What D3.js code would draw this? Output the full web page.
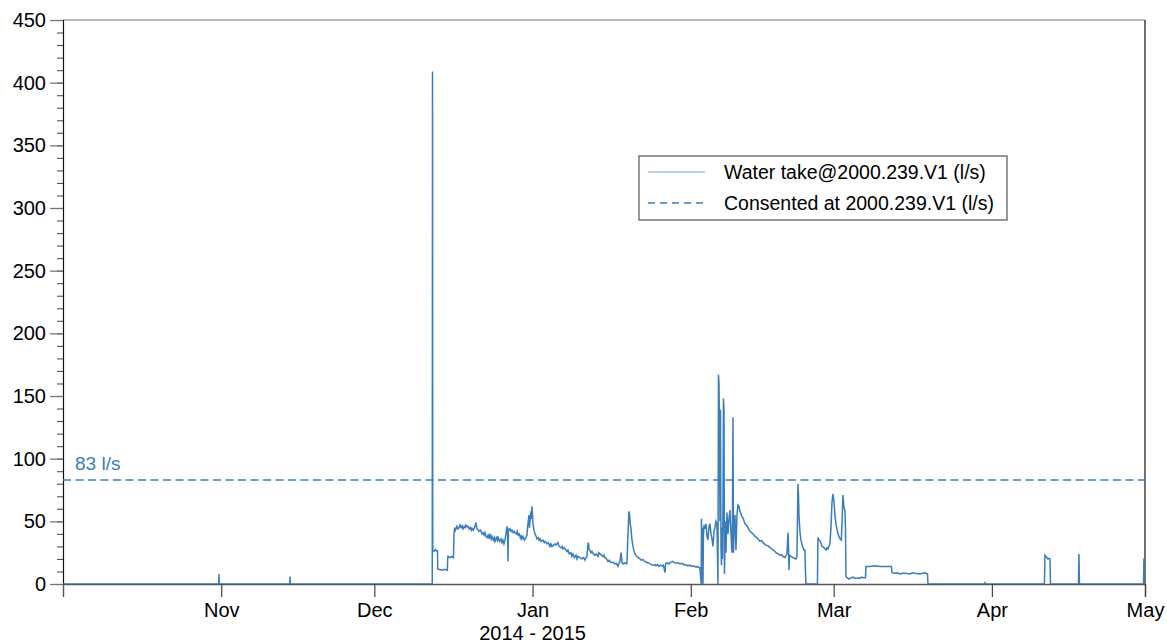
<!DOCTYPE html>
<html><head><meta charset="utf-8">
<script src="https://cdn.jsdelivr.net/npm/d3@7"></script>
<style>
body{margin:0;background:#fff}
text{font-family:"Liberation Sans",Arial,Helvetica,sans-serif}
</style>
</head><body>
<svg id="chart" width="1167" height="644"></svg>
<script>
// ---------- data ----------
const startDate = "2014-10-01";
const endDate = "2015-05-01";
const yTickValues = [0, 50, 100, 150, 200, 250, 300, 350, 400, 450];
const monthTicks = ["2014-11-01", "2014-12-01", "2015-01-01", "2015-02-01", "2015-03-01", "2015-04-01", "2015-05-01"];
const monthLabels = ["Nov", "Dec", "Jan", "Feb", "Mar", "Apr", "May"];
const xTitle = "2014 - 2015";
const seriesNames = ["Water take@2000.239.V1 (l/s)", "Consented at 2000.239.V1 (l/s)"];
const consentedRate = 83;
const consentedLabel = "83 l/s";
// water take: [days since 1 Oct 2014, l/s]
const waterTake = [
[0,0],[30.5,0],[30.56,8],[30.62,0],
[44.42,0],[44.47,6],[44.53,0],
[72.35,0],[72.40,409],[72.45,27],
[72.7,26],[73.0,27.5],[73.3,26],[73.38,27],[73.42,12],[73.8,11.5],[74.3,11],[74.8,11.8],[75.3,11],[75.38,20],[75.43,22],[75.8,21],[76.2,22],[76.5,21],
[76.61,40],[76.75,45],[76.9,43],[77.19,46],[77.4,44],[77.6,45],[77.78,47],[78.0,45],[78.2,46.5],[78.37,44],[78.6,46],[78.8,45],[78.96,47],[79.2,45.5],[79.4,46],[79.55,44],[79.8,45],[80.0,43],[80.13,44.5],[80.4,43],[80.6,45],[80.72,46],[80.92,49],[81.1,44],[81.3,43.5],[81.5,42],[81.8,43],
[82.09,40],[82.3,41],[82.5,39],[82.68,41],[82.9,38],[83.07,37],[83.3,39],[83.5,36],[83.66,40],[83.9,36],[84.05,38],[84.3,35],[84.5,37],[84.64,34],[84.9,37],[85.1,35],[85.23,38],[85.5,34],[85.8,36],[86.01,33],[86.2,35],[86.4,32],[86.6,35],[86.8,40],[86.99,46],[87.1,44],[87.19,18],[87.28,44],[87.4,43],[87.58,44],[87.8,42],[87.97,43],[88.2,41],[88.4,42],[88.56,41],[88.8,40],[89.0,42],[89.15,39],[89.4,40],[89.6,37],[89.73,39],[89.9,36],[90.13,38],[90.4,35],[90.71,37],[90.9,39],
[91.1,48],[91.3,55],[91.4,45],[91.5,50],[91.69,58],[91.8,52],[91.89,62],[92.0,55],[92.08,48],[92.28,43],[92.48,40],[92.7,38],[92.87,36],[93.1,37],[93.3,35],[93.46,36],[93.7,34],[94.04,35],[94.3,33],[94.5,34],[94.83,32],[95.1,33],[95.42,30],[95.6,32],[95.81,30],[96.1,31],[96.39,32],[96.6,31],[96.98,33],[97.2,30],[97.57,29],[97.8,30],[97.96,28],[98.2,29],[98.55,27],[98.8,26],[98.94,27],[99.2,24],[99.53,25],[99.7,22],[99.92,24],[100.2,21],[100.51,23],[100.7,20],[100.9,22],[101.3,21],[101.68,20],[102.0,21],[102.27,19],[102.5,21],[102.66,22],
[102.86,32],[102.96,33],[103.06,28],[103.25,27],[103.45,25],[103.64,26],[103.9,24],[104.23,23],[104.5,24],[104.82,22],[105.0,25],[105.21,24],[105.5,23],[105.8,22],[106.0,23],[106.19,21],[106.5,20],[106.78,18],[107.0,19],[107.37,17],[107.7,17.5],[108.15,16],[108.4,16.5],[108.74,14],[108.9,16],[109.13,18],[109.33,25],[109.45,21],[109.52,17],[109.72,16],[110.11,17],[110.4,16],[110.5,17],
[110.7,40],[110.89,58],[111.0,56],[111.09,50],[111.29,44],[111.45,36],[111.68,30],[111.9,26],[112.07,24],[112.46,22],[112.7,21],[113.05,20],[113.3,19],[113.64,19.5],[114.0,18],[114.22,17.5],[114.62,17],[115.01,16],[115.3,15.5],[115.6,15],[116.0,15.5],[116.18,14.5],[116.5,15.5],[116.77,14],[117.1,15],[117.36,14.5],[117.6,15],[117.75,13],[117.95,9],[118.05,16],[118.34,17],[118.7,16],[118.93,17],[119.2,17.5],[119.51,18],[119.8,17],[120.1,16.5],[120.5,17],[120.89,16],[121.2,16.5],[121.47,16],[121.8,15],[122.06,15.5],[122.4,14.5],[122.85,15],[123.1,14],[123.43,14.5],[123.8,14],[124.02,13.5],[124.3,14],[124.61,13],[124.8,13],
[125.0,2],[125.05,0],[125.1,52],[125.2,1],[125.29,45],[125.39,0],[125.49,40],[125.59,47],[125.78,44],[125.98,48],[126.18,38],[126.37,35],[126.57,46],[126.76,48],[126.96,40],[127.16,36],[127.35,30],[127.55,42],[127.74,45],[127.94,50],[128.13,48],[128.33,0],
[128.43,167],[128.53,160],[128.62,128],[128.72,50],[128.82,139],[128.92,30],[129.02,15],[129.11,45],[129.21,20],[129.31,60],[129.41,148],[129.51,140],[129.6,8],[129.7,30],[129.8,50],[129.9,25],[130.09,57],[130.29,40],[130.49,52],[130.68,59],[130.88,40],[131.07,25],[131.17,50],[131.27,133],[131.37,25],[131.47,40],[131.66,55],[131.86,27],[132.05,55],[132.25,63],[132.45,62],[132.64,58],
[133.03,54],[133.3,52],[133.62,48],[133.9,47],[134.21,45],[134.6,42],[134.9,41],[135.19,40],[135.58,38],[135.9,37],[136.17,36],[136.56,34],[136.9,34.5],[137.15,33],[137.73,31],[138.1,30.5],[138.52,29],[138.8,28.5],[139.11,27],[139.4,26.5],[139.69,25],[140.1,24],[140.48,23],[140.8,23.5],[141.07,22],[141.46,21],[141.85,24],[142.05,41],[142.15,30],[142.24,11],[142.34,23],[142.63,22],[143.03,21],[143.3,20.5],[143.61,20],[143.81,22],
[144.0,80],[144.1,72],[144.2,55],[144.4,41],[144.59,35],[144.98,29],[145.2,27],[145.38,27],[145.47,10],[145.57,0],[147.82,0],
[147.92,37],[148.12,35],[148.4,34],[148.71,30],[149.1,29],[149.49,27],[149.7,29],[149.88,28],[150.27,32],[150.47,45],[150.67,65],[150.86,72],[151.06,66],[151.25,55],[151.45,48],[151.84,40],[152.23,36],[152.5,35],[152.63,48],[152.82,71],[153.0,62],[153.21,58],[153.31,45],
[153.41,6],[153.61,5],[154.0,4],[154.19,4.5],[154.5,5],[154.78,5.5],[155.1,4.5],[155.37,4.5],[155.8,5],[156.15,4.5],[156.5,5.5],[156.74,5],[157.23,5],
[157.33,14],[158.11,14],[159.09,14.5],[160.07,14],[161.05,14],[162.32,14],
[162.42,9],[163.01,8.5],[163.5,9],[163.99,8],[164.5,8.5],[164.97,8.5],[165.95,8],[166.4,9],[166.93,8.5],[167.91,8],[168.4,8.5],[168.89,9],[169.38,8],[169.48,0],
[180.5,0],[180.64,1],[180.8,0],
[192.3,0],[192.4,23],[192.59,22],[192.8,21],[192.99,20],[193.2,20.5],[193.38,20],[193.48,0],
[198.96,0],[199.06,24],[199.16,0],
[211.7,0],[211.79,20],[212,20]
];

// ---------- drawing ----------
const W = 1167, H = 644;
const m = {left: 63, right: 22, top: 20, bottom: 60};
const color = "#3a7dbd";
const parse = d3.timeParse("%Y-%m-%d");
const t0 = parse(startDate), t1 = parse(endDate);
const dayToDate = d => new Date(t0.getTime() + d * 86400000);

const x = d3.scaleTime().domain([t0, t1]).range([m.left, W - m.right]);
const y = d3.scaleLinear().domain([0, 450]).range([H - m.bottom, m.top]);

const svg = d3.select("#chart");
svg.append("defs").append("clipPath").attr("id", "clip")
  .append("rect").attr("x", m.left).attr("y", m.top - 2)
  .attr("width", W - m.right - m.left + 1).attr("height", H - m.bottom - m.top + 2);

// frame top & right
svg.append("line").attr("x1", m.left).attr("x2", W - m.right).attr("y1", y(450)).attr("y2", y(450))
  .attr("stroke", "#777").attr("stroke-width", 1.2);
svg.append("line").attr("x1", W - m.right).attr("x2", W - m.right).attr("y1", y(450)).attr("y2", y(0))
  .attr("stroke", "#111").attr("stroke-width", 1.2);

// y axis minor
svg.append("g").attr("transform", `translate(${m.left},0)`)
  .call(d3.axisLeft(y).tickValues(d3.range(0, 451, 10)).tickSize(6).tickFormat(""))
  .call(g => g.select(".domain").remove())
  .call(g => g.selectAll("line").attr("stroke", "#555").attr("stroke-width", 1.1));
// y axis major
svg.append("g").attr("transform", `translate(${m.left},0)`)
  .call(d3.axisLeft(y).tickValues(yTickValues).tickSize(13).tickPadding(4))
  .call(g => g.select(".domain").attr("stroke", "#111").attr("stroke-width", 1.2))
  .call(g => g.selectAll(".tick line").attr("stroke", "#777").attr("stroke-width", 1.3))
  .call(g => g.selectAll("text").attr("font-size", 20).attr("fill", "#000")
    .attr("font-family", '"Liberation Sans",Arial,sans-serif'));

// x axis
const monthDates = monthTicks.map(parse);
svg.append("g").attr("transform", `translate(0,${y(0)})`)
  .call(d3.axisBottom(x).tickValues(monthDates).tickSize(13).tickPadding(6)
    .tickFormat((d, i) => monthLabels[i]))
  .call(g => g.select(".domain").attr("stroke", "#555").attr("stroke-width", 1.4))
  .call(g => g.selectAll(".tick line").attr("stroke", "#444").attr("stroke-width", 1.2))
  .call(g => g.selectAll("text").attr("font-size", 20).attr("fill", "#000")
    .attr("font-family", '"Liberation Sans",Arial,sans-serif'));

svg.append("text").attr("x", x(parse("2015-01-01"))).attr("y", 640)
  .attr("text-anchor", "middle").attr("font-size", 20).text(xTitle);

// consented line
svg.append("line").attr("x1", m.left).attr("x2", W - m.right)
  .attr("y1", y(consentedRate)).attr("y2", y(consentedRate))
  .attr("stroke", color).attr("stroke-width", 1.6).attr("stroke-dasharray", "8,4.5");
svg.append("text").attr("x", m.left + 12).attr("y", y(consentedRate) - 10)
  .attr("font-size", 19).attr("fill", color).text(consentedLabel);

// water take line
const line = d3.line().x(d => x(dayToDate(d[0]))).y(d => y(d[1]));
svg.append("path").datum(waterTake).attr("clip-path", "url(#clip)")
  .attr("fill", "none").attr("stroke", color).attr("stroke-width", 1.5)
  .attr("stroke-linejoin", "miter").attr("d", line);

// legend
const lg = svg.append("g").attr("transform", "translate(639,156)");
lg.append("rect").attr("width", 368).attr("height", 64).attr("fill", "#fff")
  .attr("stroke", "#333").attr("stroke-width", 1);
lg.append("line").attr("x1", 9).attr("x2", 66).attr("y1", 16).attr("y2", 16)
  .attr("stroke", color).attr("stroke-opacity", 0.7).attr("stroke-width", 1.1);
lg.append("line").attr("x1", 9).attr("x2", 66).attr("y1", 47).attr("y2", 47)
  .attr("stroke", color).attr("stroke-width", 1.3).attr("stroke-dasharray", "7,5");
lg.selectAll("text.lt").data(seriesNames).enter().append("text").attr("class", "lt")
  .attr("x", 85).attr("y", (d, i) => 23 + i * 31).attr("font-size", 19.5).attr("fill", "#000")
  .text(d => d);
</script>
</body></html>
